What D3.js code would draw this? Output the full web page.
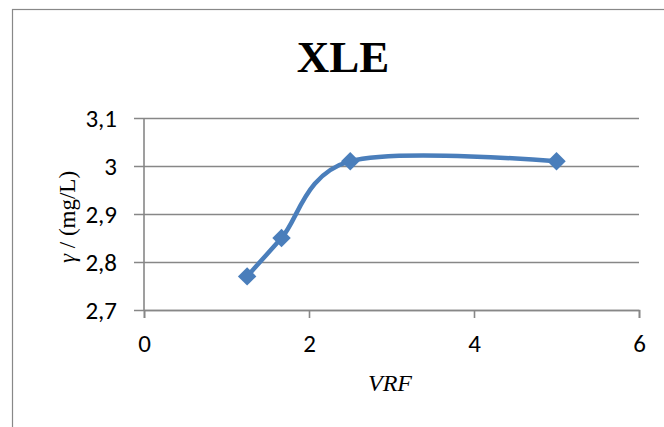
<!DOCTYPE html>
<html>
<head>
<meta charset="utf-8">
<script src="https://cdn.jsdelivr.net/npm/d3@7"></script>
<style>
  body { margin: 0; background: #fff; }
  svg { display: block; }
</style>
</head>
<body>
<div id="chart"></div>
<script>
// data
var vrf = [1.25, 1.667, 2.5, 5];
var conc = [2.77, 2.85, 3.01, 3.01];
var xTicks = [0, 2, 4, 6];
var yTicks = [2.7, 2.8, 2.9, 3.0, 3.1];
var titleText = "XLE";
var xLabel = "VRF";

var W = 664, H = 427;
var margin = { top: 118, right: 25, bottom: 117, left: 144 };   // plot area 144..639 x 118..310
var width = W - margin.left - margin.right,
    height = H - margin.top - margin.bottom;

var svg = d3.select("#chart").append("svg")
    .attr("width", W)
    .attr("height", H);

// chart area border (runs off the right and bottom edge)
svg.append("rect")
    .attr("x", 12.5).attr("y", 9.5)
    .attr("width", W + 20).attr("height", H + 20)
    .attr("fill", "none")
    .attr("stroke", "#888")
    .attr("stroke-width", 1.2);

var g = svg.append("g")
    .attr("transform", "translate(" + margin.left + "," + margin.top + ")");

var x = d3.scaleLinear().domain([0, 6]).range([0, width]);
var y = d3.scaleLinear().domain([2.7, 3.1]).range([height, 0]);

var fmt = function (d) { return d3.format("~g")(d).replace(".", ","); };

// horizontal gridlines + y axis
var yAxis = g.append("g")
    .call(d3.axisLeft(y).tickValues(yTicks).tickSize(-width).tickFormat(fmt).tickPadding(27));
yAxis.select(".domain").remove();
yAxis.selectAll("line")
    .attr("x1", -10)
    .attr("stroke", "#878787")
    .attr("stroke-width", 1.6);

// x axis
var xAxis = g.append("g")
    .attr("transform", "translate(0," + height + ")")
    .call(d3.axisBottom(x).tickValues(xTicks).tickSize(8).tickFormat(fmt).tickPadding(16));
xAxis.select(".domain").attr("stroke", "#878787").attr("stroke-width", 1.6);
xAxis.selectAll("line").attr("stroke", "#878787").attr("stroke-width", 1.6);

// vertical axis line
g.append("line")
    .attr("x1", 0).attr("x2", 0)
    .attr("y1", 0).attr("y2", height)
    .attr("stroke", "#878787")
    .attr("stroke-width", 1.6);

g.selectAll(".tick text")
    .style("font-family", "Carlito, Calibri, 'Liberation Sans', sans-serif")
    .style("font-size", "25px")
    .attr("fill", "#000");

// smoothed line like excel
var line = d3.line()
    .x(function (d, i) { return x(vrf[i]); })
    .y(function (d) { return y(d); })
    .curve(d3.curveCardinal.tension(0));

g.append("path")
    .datum(conc)
    .attr("d", line)
    .attr("fill", "none")
    .attr("stroke", "#4A7EBB")
    .attr("stroke-width", 4.5);

var diamond = d3.symbol().type(d3.symbolSquare).size(170);
g.selectAll(".pt")
    .data(conc)
    .enter().append("path")
    .attr("class", "pt")
    .attr("d", diamond)
    .attr("transform", function (d, i) { return "translate(" + x(vrf[i]) + "," + y(d) + ") rotate(45)"; })
    .attr("fill", "#4A7EBB");

// title
svg.append("text")
    .attr("x", 343)
    .attr("y", 72)
    .attr("text-anchor", "middle")
    .attr("font-family", "'Liberation Serif', 'Times New Roman', serif")
    .attr("font-weight", "bold")
    .attr("font-size", 45)
    .text(titleText);

// x label
svg.append("text")
    .attr("x", 390)
    .attr("y", 391)
    .attr("text-anchor", "middle")
    .attr("font-family", "'Liberation Serif', 'Times New Roman', serif")
    .attr("font-style", "italic")
    .attr("font-size", 24)
    .text(xLabel);

// y label
var yl = svg.append("text")
    .attr("transform", "translate(75,217) rotate(-90)")
    .attr("text-anchor", "middle")
    .attr("font-family", "'Liberation Serif', 'Times New Roman', serif")
    .attr("font-size", 23);
yl.append("tspan").attr("font-style", "italic").text("γ");
yl.append("tspan").text(" / (mg/L)");
</script>
</body>
</html>
